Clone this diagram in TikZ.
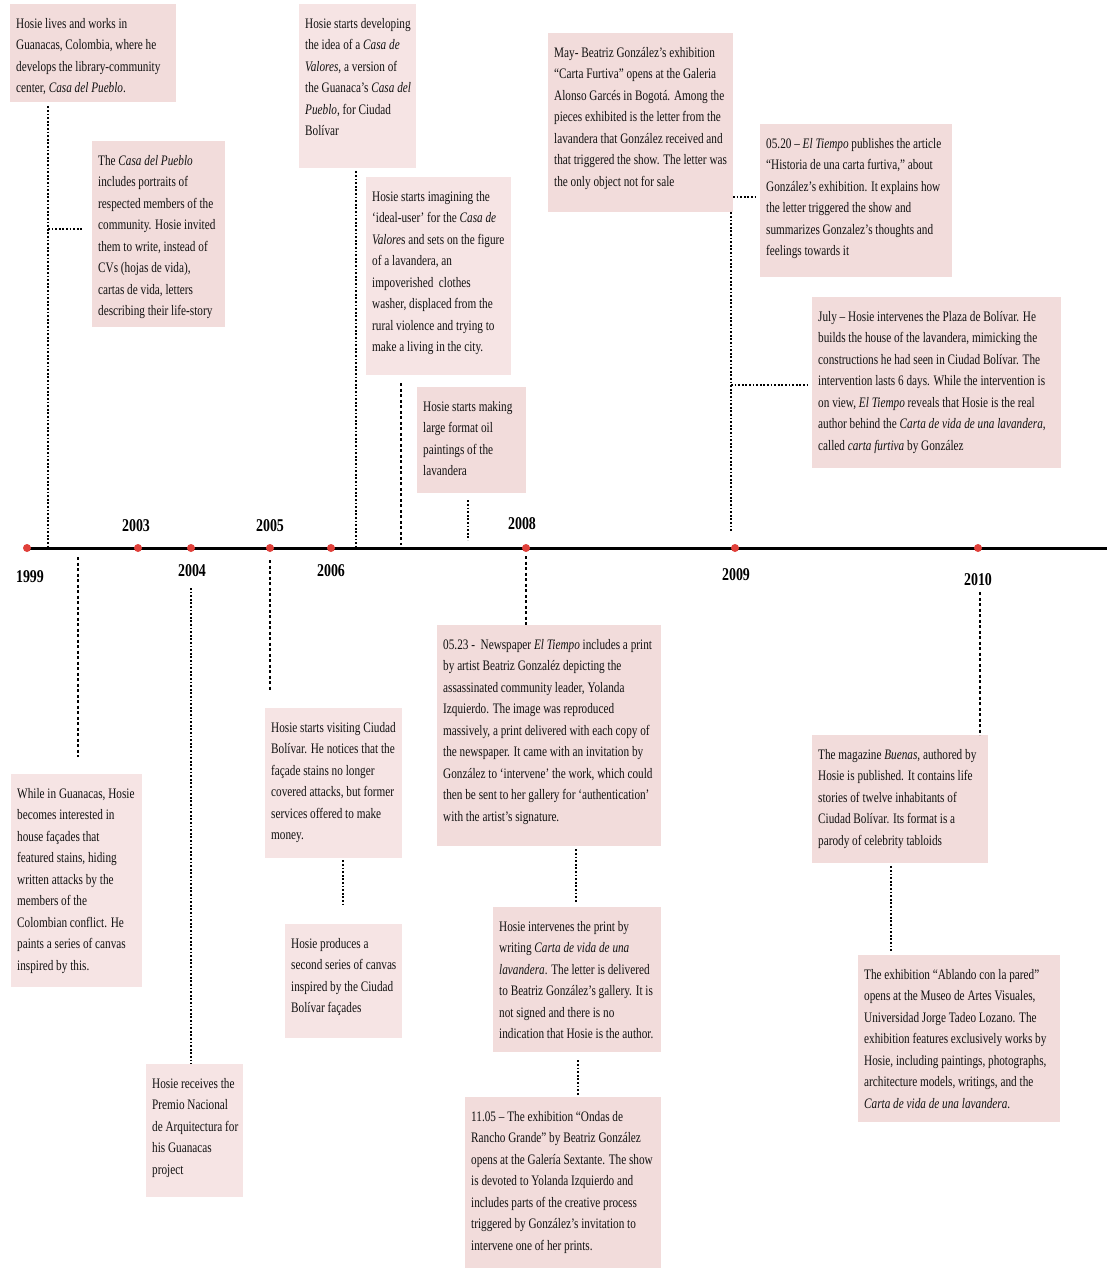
\documentclass[tikz,border=0pt]{standalone}
\usepackage{fontspec}
\setmainfont{Liberation Serif}[FakeStretch=0.775]
\usetikzlibrary{calc}
\definecolor{pinkA}{HTML}{F2DCDB}
\definecolor{pinkB}{HTML}{F6E4E4}
\definecolor{dotred}{HTML}{E0403A}
\definecolor{txtc}{HTML}{111111}
\newcommand{\evbox}[7][pinkA]{%
  \node[evbg, fill=#1, minimum width=#5pt, minimum height=#6pt] (#2) at (#3,#4) {};
  \node[evtxt] (#2t) at (#3+6,#4+9) {\strut#7};
}
\tikzset{
  evbg/.style={anchor=north west, inner sep=0pt, draw=none},
  evtxt/.style={anchor=north west, inner sep=0pt, align=left, text=txtc,
    font=\fontsize{14.5}{21.5}\selectfont},
  dotline/.style={line width=1.8pt, dash pattern=on 1.8pt off 1.8pt},
  dashline/.style={line width=1.1pt, dash pattern=on 3pt off 2.5pt},
  ydot/.style={circle, fill=dotred, inner sep=0pt, minimum size=8pt},
  yr/.style={font=\fontsize{18}{20}\selectfont\bfseries, inner sep=0pt, text=black},
}
\begin{document}
\begin{tikzpicture}[x=1pt, y=-1pt]
\useasboundingbox[fill=white] (0,0) rectangle (1107,1270);

% ---------- boxes above the timeline ----------
\evbox{b1}{10}{4}{166}{98}{Hosie lives and works in\\
Guanacas, Colombia, where he\\
develops the library-community\\
center, \textit{Casa del Pueblo}.}

\evbox{b2}{92}{141}{133}{186}{The \textit{Casa del Pueblo}\\
includes portraits of\\
respected members of the\\
community. Hosie invited\\
them to write, instead of\\
CVs (hojas de vida),\\
cartas de vida, letters\\
describing their life-story}

\evbox[pinkB]{b3}{299}{4}{117}{164}{Hosie starts developing\\
the idea of a \textit{Casa de}\\
\textit{Valores}, a version of\\
the Guanaca’s \textit{Casa del}\\
\textit{Pueblo}, for Ciudad\\
Bolívar}

\evbox[pinkB]{b4}{366}{177}{145}{198}{Hosie starts imagining the\\
‘ideal-user’ for the \textit{Casa de}\\
\textit{Valore}s and sets on the figure\\
of a lavandera, an\\
impoverished\ \ clothes\\
washer, displaced from the\\
rural violence and trying to\\
make a living in the city.}

\evbox{b5}{417}{387}{109}{106}{Hosie starts making\\
large format oil\\
paintings of the\\
lavandera}

\evbox{b6}{548}{33}{185}{179}{May- Beatriz González’s exhibition\\
“Carta Furtiva” opens at the Galeria\\
Alonso Garcés in Bogotá. Among the\\
pieces exhibited is the letter from the\\
lavandera that González received and\\
that triggered the show. The letter was\\
the only object not for sale}

\evbox{b7}{760}{124}{192}{153}{05.20 – \textit{El Tiempo} publishes the article\\
“Historia de una carta furtiva,” about\\
González’s exhibition. It explains how\\
the letter triggered the show and\\
summarizes Gonzalez’s thoughts and\\
feelings towards it}

\evbox{b8}{812}{297}{249}{171}{July – Hosie intervenes the Plaza de Bolívar. He\\
builds the house of the lavandera, mimicking the\\
constructions he had seen in Ciudad Bolívar. The\\
intervention lasts 6 days. While the intervention is\\
on view, \textit{El Tiempo} reveals that Hosie is the real\\
author behind the \textit{Carta de vida de una lavandera},\\
called \textit{carta furtiva} by González}

% ---------- boxes below the timeline ----------
\evbox[pinkB]{b9}{11}{774}{131}{213}{While in Guanacas, Hosie\\
becomes interested in\\
house façades that\\
featured stains, hiding\\
written attacks by the\\
members of the\\
Colombian conflict. He\\
paints a series of canvas\\
inspired by this.}

\evbox[pinkB]{b10}{146}{1064}{97}{133}{Hosie receives the\\
Premio Nacional\\
de Arquitectura for\\
his Guanacas\\
project}

\evbox[pinkB]{b11}{265}{708}{137}{150}{Hosie starts visiting Ciudad\\
Bolívar. He notices that the\\
façade stains no longer\\
covered attacks, but former\\
services offered to make\\
money.}

\evbox[pinkB]{b12}{285}{924}{117}{114}{Hosie produces a\\
second series of canvas\\
inspired by the Ciudad\\
Bolívar façades}

\evbox{b13}{437}{625}{224}{221}{05.23 -\ \ Newspaper \textit{El Tiempo} includes a print\\
by artist Beatriz Gonzaléz depicting the\\
assassinated community leader, Yolanda\\
Izquierdo. The image was reproduced\\
massively, a print delivered with each copy of\\
the newspaper. It came with an invitation by\\
González to ‘intervene’ the work, which could\\
then be sent to her gallery for ‘authentication’\\
with the artist’s signature.}

\evbox{b14}{493}{907}{168}{145}{Hosie intervenes the print by\\
writing \textit{Carta de vida de una}\\
\textit{lavandera}. The letter is delivered\\
to Beatriz González’s gallery. It is\\
not signed and there is no\\
indication that Hosie is the author.}

\evbox{b15}{465}{1097}{196}{171}{11.05 – The exhibition “Ondas de\\
Rancho Grande” by Beatriz González\\
opens at the Galería Sextante. The show\\
is devoted to Yolanda Izquierdo and\\
includes parts of the creative process\\
triggered by González’s invitation to\\
intervene one of her prints.}

\evbox{b16}{812}{735}{176}{128}{The magazine \textit{Buenas}, authored by\\
Hosie is published. It contains life\\
stories of twelve inhabitants of\\
Ciudad Bolívar. Its format is a\\
parody of celebrity tabloids}

\evbox{b17}{858}{955}{202}{167}{The exhibition “Ablando con la pared”\\
opens at the Museo de Artes Visuales,\\
Universidad Jorge Tadeo Lozano. The\\
exhibition features exclusively works by\\
Hosie, including paintings, photographs,\\
architecture models, writings, and the\\
\textit{Carta de vida de una lavandera}.}

% ---------- timeline ----------
\coordinate (tstart) at (27,548);
\coordinate (tend) at (1107,548);
\draw[line width=3pt] (tstart) -- (tend);

\node[ydot] (d1999) at (27,548) {};
\node[ydot] (d2003) at (138,548) {};
\node[ydot] (d2004) at (191,548) {};
\node[ydot] (d2005) at (270,548) {};
\node[ydot] (d2006) at (331,548) {};
\node[ydot] (d2008) at (526,548) {};
\node[ydot] (d2009) at (735,548) {};
\node[ydot] (d2010) at (978,548) {};

\node[yr] (y1999) at (30,577) {1999};
\node[yr] (y2003) at (136,526) {2003};
\node[yr] (y2004) at (192,571) {2004};
\node[yr] (y2005) at (270,526) {2005};
\node[yr] (y2006) at (331,571) {2006};
\node[yr] (y2008) at (522,524) {2008};
\node[yr] (y2009) at (736,575) {2009};
\node[yr] (y2010) at (978,580) {2010};

% ---------- connectors above ----------
\coordinate (c1) at (48,546);
\coordinate (j1) at (48,229);
\draw[dotline, shorten <=4pt] (b1.south -| c1) -- (c1);
\draw[dotline, shorten >=9pt] (j1) -- (b2.west |- j1);

\coordinate (c3) at (356,547);
\draw[dotline, shorten <=3pt] (b3.south -| c3) -- (c3);

\coordinate (c4) at (401,545);
\draw[dashline, shorten <=8pt] (b4.south -| c4) -- (c4);

\coordinate (c5) at (468,540);
\draw[dotline, shorten <=7pt] (b5.south -| c5) -- (c5);

\coordinate (c6) at (731,532);
\coordinate (j6a) at (733,197);
\coordinate (j6b) at (731,385);
\draw[dotline, line width=1.5pt] (b6.south -| c6) -- (c6);
\draw[dotline, shorten >=2pt] (j6a) -- (b7.west |- j6a);
\draw[dotline, shorten >=2pt] (j6b) -- (b8.west |- j6b);

% ---------- connectors below ----------
\coordinate (c9) at (78,557);
\draw[dashline, shorten >=17pt] (c9) -- (b9.north -| c9);

\coordinate (c10) at (191,588);
\draw[dotline] (c10) -- (b10.north -| c10);

\coordinate (c11) at (270,560);
\draw[dashline, shorten >=18pt] (c11) -- (b11.north -| c11);

\coordinate (c12) at (343,860);
\draw[dotline, shorten <=2pt, shorten >=18pt] (b11.south -| c12) -- (b12.north -| c12);

\coordinate (c13) at (526,556);
\draw[dashline] (c13) -- (b13.north -| c13);

\coordinate (c14) at (576,850);
\draw[dotline, shorten <=3pt, shorten >=4pt] (b13.south -| c14) -- (b14.north -| c14);

\coordinate (c15) at (578,1060);
\draw[dotline, shorten <=8pt, shorten >=2pt] (b14.south -| c15) -- (b15.north -| c15);

\coordinate (c16) at (980,592);
\draw[dashline] (c16) -- (b16.north -| c16);

\coordinate (c17) at (891,866);
\draw[dotline, shorten <=3pt, shorten >=3pt] (b16.south -| c17) -- (b17.north -| c17);
\end{tikzpicture}
\end{document}
